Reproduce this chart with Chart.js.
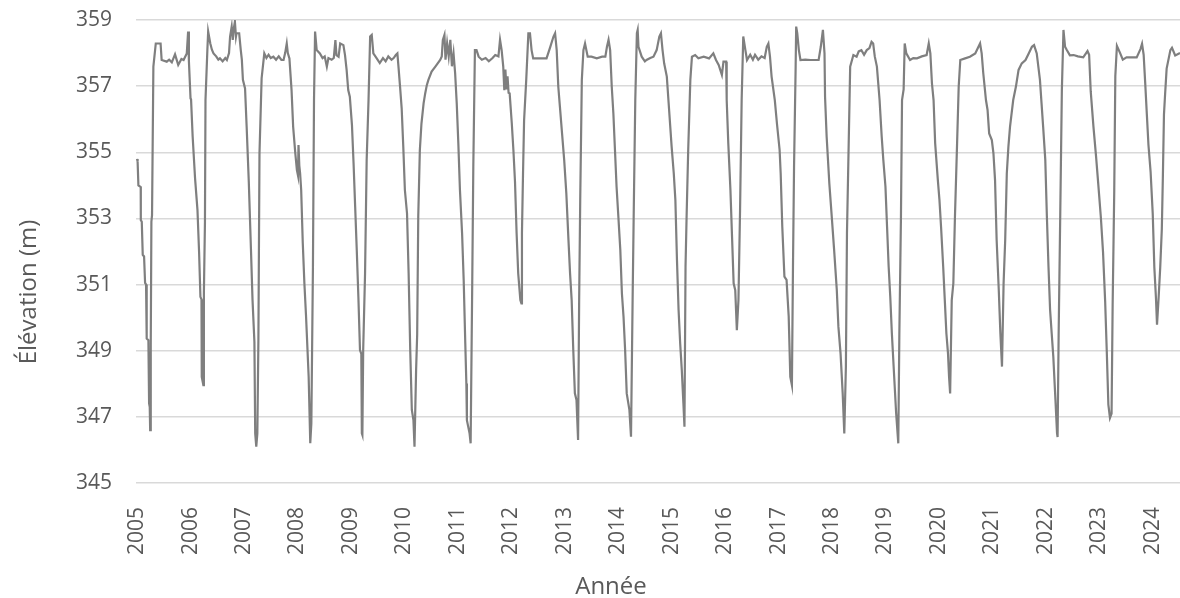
<!DOCTYPE html>
<html>
<head>
<meta charset="utf-8">
<script src="https://cdn.jsdelivr.net/npm/chart.js@4.4.1/dist/chart.umd.min.js"></script>
<style>
  html, body { margin: 0; padding: 0; background: #fff; }
  #chart { display: block; }
</style>
</head>
<body>
<canvas id="chart" width="1180" height="598"></canvas>
<script>
// Decimal year of each reading, one line per drawdown cycle
const dates = [
  2005.000, 2005.010, 2005.025, 2005.068, 2005.070, 2005.088, 2005.106, 2005.131, 2005.150, 2005.168, 2005.180, 2005.212, 2005.225, 2005.237, 2005.245, 2005.256, 2005.268, 2005.280, 2005.305, 2005.350, 2005.440, 2005.460, 2005.555, 2005.600, 2005.650, 2005.710, 2005.740, 2005.770, 2005.830, 2005.870, 2005.930, 2005.955, 2005.970,
  2006.000, 2006.010, 2006.040, 2006.085, 2006.130, 2006.160, 2006.185, 2006.205, 2006.210, 2006.240, 2006.250, 2006.270, 2006.280, 2006.315, 2006.330, 2006.370, 2006.400, 2006.430, 2006.480, 2006.520, 2006.550, 2006.600, 2006.650, 2006.680, 2006.720, 2006.740, 2006.770, 2006.790, 2006.810, 2006.830, 2006.850, 2006.860, 2006.910, 2006.940, 2006.960,
  2006.980, 2007.020, 2007.050, 2007.090, 2007.130, 2007.160, 2007.195, 2007.210, 2007.230, 2007.250, 2007.270, 2007.290, 2007.330, 2007.380, 2007.420, 2007.460, 2007.500, 2007.550, 2007.600, 2007.650, 2007.700, 2007.740, 2007.770, 2007.800, 2007.820,
  2007.850, 2007.890, 2007.920, 2007.960, 2007.990, 2008.010, 2008.020, 2008.035, 2008.050, 2008.070, 2008.100, 2008.130, 2008.160, 2008.210, 2008.240, 2008.260, 2008.290, 2008.310, 2008.330, 2008.360, 2008.420, 2008.470, 2008.510, 2008.550, 2008.580, 2008.640, 2008.680, 2008.710, 2008.730, 2008.770, 2008.800, 2008.860, 2008.890,
  2008.920, 2008.950, 2008.980, 2009.020, 2009.050, 2009.080, 2009.110, 2009.140, 2009.170, 2009.195, 2009.205, 2009.215, 2009.230, 2009.265, 2009.295, 2009.330, 2009.360, 2009.390, 2009.420, 2009.480, 2009.540, 2009.600, 2009.650, 2009.700, 2009.760, 2009.800, 2009.840, 2009.870,
  2009.890, 2009.920, 2009.950, 2009.980, 2010.010, 2010.050, 2010.080, 2010.110, 2010.140, 2010.170, 2010.190, 2010.220, 2010.240, 2010.260, 2010.290, 2010.320, 2010.360, 2010.390, 2010.420, 2010.450, 2010.510, 2010.580, 2010.670, 2010.700, 2010.720, 2010.750, 2010.770, 2010.800, 2010.830, 2010.860, 2010.890, 2010.920,
  2010.950, 2010.980, 2011.010, 2011.040, 2011.080, 2011.110, 2011.140, 2011.160, 2011.170, 2011.220, 2011.240, 2011.270, 2011.290, 2011.320, 2011.350, 2011.390, 2011.450, 2011.520, 2011.580, 2011.650, 2011.700, 2011.760, 2011.790, 2011.820,
  2011.850, 2011.870, 2011.890, 2011.910, 2011.930, 2011.950, 2011.970, 2012.010, 2012.040, 2012.070, 2012.100, 2012.130, 2012.170, 2012.190, 2012.200, 2012.220, 2012.240, 2012.280, 2012.320, 2012.350, 2012.380, 2012.410, 2012.500, 2012.600, 2012.660, 2012.730, 2012.790, 2012.820, 2012.850,
  2012.880, 2012.910, 2012.950, 2012.990, 2013.030, 2013.070, 2013.100, 2013.130, 2013.160, 2013.190, 2013.220, 2013.250, 2013.270, 2013.290, 2013.320, 2013.350, 2013.380, 2013.430, 2013.500, 2013.600, 2013.700, 2013.760, 2013.790, 2013.820, 2013.850,
  2013.880, 2013.910, 2013.940, 2013.970, 2014.000, 2014.040, 2014.070, 2014.100, 2014.130, 2014.160, 2014.210, 2014.240, 2014.270, 2014.290, 2014.320, 2014.350, 2014.365, 2014.380, 2014.440, 2014.500, 2014.530, 2014.600, 2014.660, 2014.720, 2014.770, 2014.800, 2014.830,
  2014.860, 2014.910, 2014.940, 2015.000, 2015.040, 2015.070, 2015.100, 2015.130, 2015.160, 2015.190, 2015.220, 2015.240, 2015.260, 2015.280, 2015.310, 2015.350, 2015.380, 2015.440, 2015.500, 2015.600, 2015.700, 2015.780, 2015.830, 2015.880, 2015.940, 2015.970, 2016.020,
  2016.030, 2016.060, 2016.100, 2016.130, 2016.160, 2016.190, 2016.220, 2016.250, 2016.280, 2016.310, 2016.340, 2016.380, 2016.410, 2016.470, 2016.520, 2016.560, 2016.620, 2016.680, 2016.740, 2016.780, 2016.810, 2016.840,
  2016.870, 2016.930, 2016.970, 2017.020, 2017.040, 2017.070, 2017.110, 2017.150, 2017.190, 2017.220, 2017.250, 2017.270, 2017.290, 2017.320, 2017.330, 2017.350, 2017.380, 2017.410, 2017.500, 2017.600, 2017.700, 2017.750, 2017.790, 2017.830, 2017.860,
  2017.870, 2017.900, 2017.950, 2018.000, 2018.040, 2018.090, 2018.120, 2018.160, 2018.200, 2018.230, 2018.260, 2018.280, 2018.310, 2018.340, 2018.400, 2018.460, 2018.500, 2018.550, 2018.600, 2018.650, 2018.700, 2018.740, 2018.770, 2018.800,
  2018.840, 2018.890, 2018.930, 2018.960, 2019.000, 2019.030, 2019.060, 2019.090, 2019.120, 2019.160, 2019.200, 2019.240, 2019.260, 2019.290, 2019.310, 2019.340, 2019.360, 2019.390, 2019.460, 2019.520, 2019.590, 2019.680, 2019.770, 2019.810, 2019.840,
  2019.870, 2019.900, 2019.930, 2019.980, 2020.010, 2020.040, 2020.080, 2020.110, 2020.140, 2020.170, 2020.190, 2020.210, 2020.240, 2020.270, 2020.300, 2020.340, 2020.370, 2020.400, 2020.490, 2020.580, 2020.680, 2020.740, 2020.770, 2020.800,
  2020.830, 2020.880, 2020.910, 2020.940, 2020.990, 2021.020, 2021.050, 2021.080, 2021.120, 2021.150, 2021.180, 2021.210, 2021.240, 2021.270, 2021.300, 2021.330, 2021.360, 2021.390, 2021.440, 2021.490, 2021.550, 2021.620, 2021.680, 2021.740, 2021.780, 2021.830,
  2021.890, 2021.920, 2021.950, 2021.990, 2022.020, 2022.050, 2022.080, 2022.110, 2022.140, 2022.180, 2022.210, 2022.220, 2022.240, 2022.270, 2022.300, 2022.330, 2022.360, 2022.390, 2022.450, 2022.520, 2022.600, 2022.700, 2022.780, 2022.810,
  2022.840, 2022.890, 2022.940, 2022.980, 2023.030, 2023.070, 2023.110, 2023.140, 2023.170, 2023.200, 2023.230, 2023.250, 2023.280, 2023.300, 2023.330, 2023.390, 2023.440, 2023.510, 2023.600, 2023.700, 2023.770, 2023.800, 2023.830,
  2023.860, 2023.890, 2023.920, 2023.960, 2024.000, 2024.030, 2024.060, 2024.080, 2024.110, 2024.140, 2024.170, 2024.190, 2024.210, 2024.230, 2024.260, 2024.330, 2024.360, 2024.420, 2024.510
];

// Water level (m) at each of those dates
const elevations = [
  354.80, 354.72, 354.00, 353.95, 352.95, 352.90, 351.90, 351.85, 351.05, 351.00, 349.37, 349.32, 347.41, 347.30, 346.60, 349.22, 352.90, 353.10, 357.59, 358.29, 358.29, 357.79, 357.74, 357.80, 357.72, 357.96, 357.80, 357.64, 357.82, 357.79, 357.99, 358.65, 357.74,
  356.63, 356.60, 355.47, 354.21, 353.25, 351.99, 350.63, 350.55, 348.21, 347.96, 350.73, 352.90, 356.58, 358.09, 358.65, 358.29, 358.10, 357.99, 357.90, 357.80, 357.84, 357.75, 357.85, 357.79, 358.00, 358.50, 358.80, 358.40, 358.75, 358.95, 358.50, 358.60, 358.60, 358.09, 357.80,
  357.19, 356.93, 355.77, 354.11, 352.09, 350.53, 349.27, 346.50, 346.10, 346.50, 349.37, 354.97, 357.24, 357.99, 357.85, 357.95, 357.85, 357.89, 357.80, 357.90, 357.79, 357.79, 358.00, 358.29, 358.00,
  357.84, 356.88, 355.77, 354.97, 354.46, 354.30, 355.22, 354.60, 354.36, 353.86, 352.25, 351.04, 350.08, 348.21, 346.20, 346.80, 351.54, 356.58, 358.65, 358.09, 357.99, 357.85, 357.90, 357.59, 357.85, 357.80, 357.85, 358.39, 357.94, 357.89, 358.29, 358.24, 357.94,
  357.49, 356.88, 356.68, 355.82, 354.67, 353.35, 352.04, 350.63, 349.02, 348.90, 346.50, 346.45, 349.02, 351.34, 354.77, 356.58, 358.50, 358.55, 357.99, 357.85, 357.70, 357.85, 357.75, 357.90, 357.80, 357.85, 357.94, 357.99,
  357.59, 356.98, 356.33, 355.17, 353.86, 353.15, 351.34, 349.02, 347.21, 346.90, 346.10, 348.42, 349.50, 353.05, 355.07, 355.87, 356.48, 356.78, 357.03, 357.19, 357.44, 357.59, 357.79, 357.90, 358.40, 358.55, 357.80, 358.30, 357.90, 358.40, 357.60, 357.99,
  357.39, 356.48, 355.27, 353.86, 352.55, 351.14, 349.22, 348.01, 346.90, 346.50, 346.20, 351.04, 354.56, 358.09, 358.09, 357.89, 357.80, 357.85, 357.75, 357.85, 357.94, 357.90, 358.40, 358.09,
  357.59, 356.88, 357.50, 356.90, 357.30, 356.80, 356.78, 355.87, 355.07, 354.11, 352.55, 351.34, 350.53, 350.43, 352.55, 354.36, 355.97, 357.19, 358.60, 358.60, 358.09, 357.84, 357.84, 357.84, 357.84, 358.19, 358.50, 358.60, 358.09,
  356.98, 356.38, 355.57, 354.77, 353.76, 352.35, 351.34, 350.53, 349.02, 347.71, 347.51, 346.30, 350.53, 353.56, 357.19, 358.09, 358.29, 357.89, 357.89, 357.84, 357.89, 357.89, 358.19, 358.40, 358.09,
  356.98, 356.18, 355.07, 353.96, 353.15, 352.04, 350.73, 350.03, 349.02, 347.71, 347.21, 346.40, 350.53, 353.05, 356.58, 358.60, 358.70, 358.19, 357.89, 357.75, 357.79, 357.85, 357.89, 358.09, 358.50, 358.60, 358.09,
  357.69, 357.29, 356.58, 355.17, 354.36, 353.56, 351.74, 350.23, 349.22, 348.42, 347.41, 346.70, 351.54, 353.05, 355.07, 357.19, 357.89, 357.94, 357.84, 357.89, 357.84, 357.99, 357.79, 357.64, 357.34, 357.74, 357.74,
  356.58, 355.27, 353.86, 352.45, 351.04, 350.83, 349.62, 350.53, 353.25, 356.58, 358.50, 358.09, 357.79, 357.95, 357.80, 357.95, 357.80, 357.90, 357.85, 358.19, 358.29, 357.89,
  357.29, 356.58, 355.87, 355.07, 354.36, 352.75, 351.24, 351.14, 350.03, 348.21, 347.96, 351.54, 354.56, 357.59, 358.80, 358.60, 358.09, 357.79, 357.80, 357.79, 357.79, 357.79, 358.19, 358.70, 357.99,
  356.68, 355.47, 354.06, 352.95, 352.04, 350.83, 349.72, 348.92, 347.71, 346.50, 348.52, 352.55, 355.07, 357.59, 357.94, 357.89, 358.05, 358.09, 357.95, 358.09, 358.15, 358.34, 358.29, 357.90,
  357.59, 356.58, 355.47, 354.77, 353.96, 352.75, 351.54, 350.63, 349.52, 348.31, 347.11, 346.20, 349.52, 353.05, 356.58, 356.90, 358.29, 357.99, 357.79, 357.85, 357.84, 357.90, 357.94, 358.29, 357.99,
  357.08, 356.58, 355.27, 354.16, 353.56, 352.75, 351.54, 350.53, 349.52, 348.92, 348.21, 347.71, 350.53, 351.04, 353.05, 355.27, 356.98, 357.79, 357.84, 357.89, 357.99, 358.19, 358.29, 357.99,
  357.39, 356.58, 356.28, 355.57, 355.37, 354.97, 354.16, 352.35, 350.83, 349.52, 348.52, 351.04, 352.35, 354.36, 355.17, 355.77, 356.18, 356.58, 356.98, 357.49, 357.69, 357.79, 357.99, 358.19, 358.24, 357.99,
  357.19, 356.48, 355.77, 354.77, 353.05, 351.54, 350.23, 349.52, 348.82, 347.51, 346.50, 346.39, 349.52, 353.15, 356.88, 358.70, 358.19, 358.10, 357.93, 357.94, 357.90, 357.87, 358.06, 357.95,
  356.84, 355.79, 354.87, 354.06, 353.02, 351.99, 350.49, 348.99, 347.37, 346.97, 347.10, 350.38, 353.84, 357.30, 358.22, 358.00, 357.80, 357.87, 357.87, 357.87, 358.12, 358.28, 357.95,
  357.07, 356.14, 355.22, 354.41, 353.14, 351.52, 350.60, 349.79, 350.60, 351.52, 352.68, 354.30, 356.14, 356.72, 357.53, 358.09, 358.16, 357.93, 358.00
];

const yearTicks = [2005, 2006, 2007, 2008, 2009, 2010, 2011, 2012, 2013, 2014,
                   2015, 2016, 2017, 2018, 2019, 2020, 2021, 2022, 2023, 2024];
const levelTicks = [345, 347, 349, 351, 353, 355, 357, 359];

const xTitle = 'Année';
const yTitle = 'Élévation (m)';

const textColor = '#595959';
const fontFamily = "'Open Sans', 'Noto Sans', sans-serif";

// Excel placed the axis titles off-centre, so draw them ourselves
const axisTitles = {
    id: 'axisTitles',
    afterDraw(chart) {
        const ctx = chart.ctx;
        ctx.save();
        ctx.fillStyle = textColor;
        ctx.font = '24px ' + fontFamily;
        ctx.textAlign = 'center';
        ctx.textBaseline = 'middle';
        ctx.fillText(xTitle, 611, 587);
        ctx.translate(29, 292);
        ctx.rotate(-Math.PI / 2);
        ctx.fillText(yTitle, 0, 0);
        ctx.restore();
    }
};

const points = dates.map((d, i) => ({ x: d, y: elevations[i] }));

new Chart(document.getElementById('chart'), {
    type: 'line',
    data: {
        datasets: [{
            data: points,
            borderColor: '#7f7f7f',
            borderWidth: 2.2,
            pointRadius: 0,
            tension: 0,
            fill: false,
        }]
    },
    options: {
        responsive: false,
        animation: false,
        layout: { padding: { top: 20, right: 0, bottom: 0, left: 0 } },
        plugins: {
            legend: { display: false },
            tooltip: { enabled: false },
        },
        scales: {
            x: {
                type: 'linear',
                min: 2004.98,
                max: 2024.51,
                afterBuildTicks: (scale) => {
                    scale.ticks = yearTicks.map(v => ({ value: v }));
                },
                // plot runs right up to the canvas edge like the original
                afterFit: (scale) => {
                    scale.height = 115;
                    scale.paddingLeft = 0;
                    scale.paddingRight = 0;
                },
                grid: { display: false },
                border: { display: false },
                ticks: {
                    autoSkip: false,
                    minRotation: 90,
                    maxRotation: 90,
                    padding: 16,
                    color: textColor,
                    font: { family: fontFamily, size: 21 },
                    callback: (v) => String(v),
                },
            },
            y: {
                min: 345,
                max: 359,
                afterBuildTicks: (scale) => {
                    scale.ticks = levelTicks.map(v => ({ value: v }));
                },
                // the tick padding would otherwise also push the plot down from the top
                afterFit: (scale) => {
                    scale.width = 136;
                    scale.paddingTop = 12;
                    scale.paddingBottom = 12;
                },
                grid: { color: '#d9d9d9', lineWidth: 1.5, drawTicks: false },
                border: { display: false },
                ticks: {
                    padding: 24,
                    color: textColor,
                    font: { family: fontFamily, size: 21 },
                    callback: (v) => String(v),
                },
            },
        },
    },
    plugins: [axisTitles],
});
</script>
</body>
</html>
